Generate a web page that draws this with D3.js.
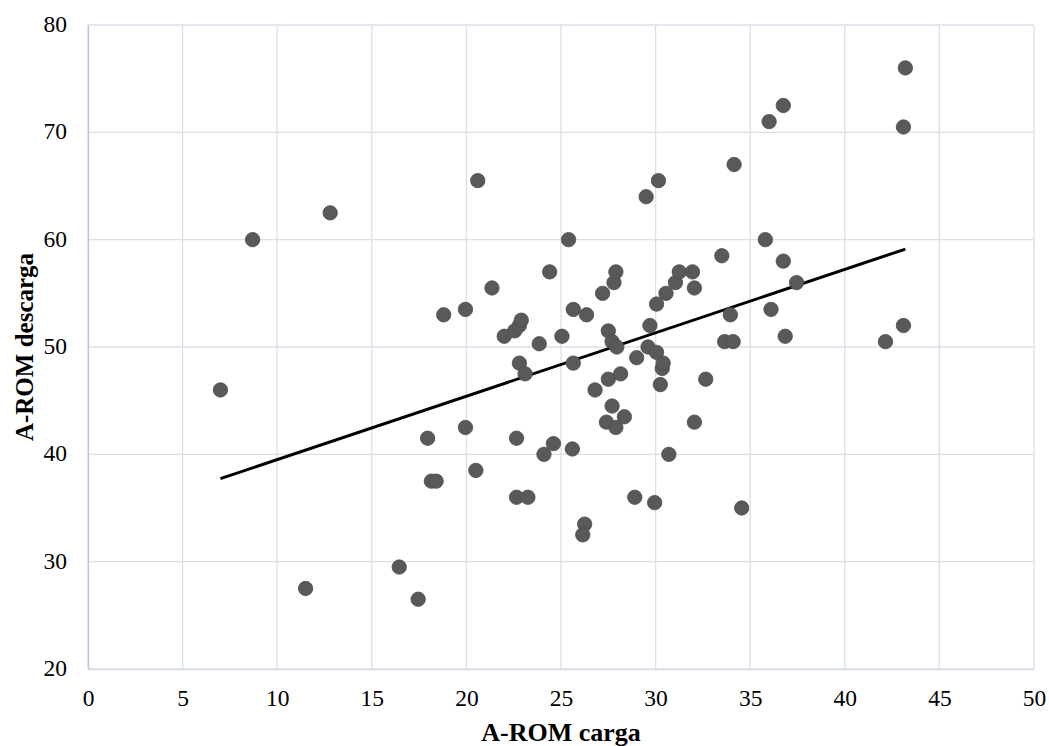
<!DOCTYPE html>
<html>
<head>
<meta charset="utf-8">
<script src="https://cdn.jsdelivr.net/npm/d3@7"></script>
<style>
  body { margin: 0; background: #fff; }
  text { font-family: "Liberation Serif", "Times New Roman", serif; }
</style>
</head>
<body>
<div id="chart"></div>
<script>
// A-ROM carga (x) vs A-ROM descarga (y)
var cargaValues = [
  7.0, 8.7, 11.5, 12.8, 16.45, 17.45, 17.95, 18.15, 18.4, 18.8,
  19.95, 19.95, 20.5, 20.6, 21.35, 22.0, 22.55, 22.8, 22.9, 22.65,
  22.65, 22.8, 23.1, 23.25, 23.85, 24.1, 24.4, 24.6, 25.05, 25.4,
  25.65, 25.65, 25.6, 26.25, 26.15, 26.35, 26.8, 27.2, 27.4, 27.5,
  27.5, 27.7, 27.7, 27.8, 27.9, 27.9, 27.95, 28.15, 28.35, 29.0,
  28.9, 29.5, 29.6, 29.7, 29.95, 30.05, 30.05, 30.15, 30.25, 30.35,
  30.4, 30.7, 30.55, 31.05, 31.25, 31.95, 32.05, 32.05, 32.65, 33.5,
  33.65, 33.95, 34.1, 34.15, 34.55, 35.8, 36.0, 36.1, 36.75, 36.75,
  36.85, 37.45, 42.15, 43.1, 43.1, 43.2
]
var descargaValues = [
  46, 60, 27.5, 62.5, 29.5, 26.5, 41.5, 37.5, 37.5, 53,
  53.5, 42.5, 38.5, 65.5, 55.5, 51, 51.5, 52, 52.5, 41.5,
  36, 48.5, 47.5, 36, 50.3, 40, 57, 41, 51, 60,
  53.5, 48.5, 40.5, 33.5, 32.5, 53, 46, 55, 43, 51.5,
  47, 50.5, 44.5, 56, 57, 42.5, 50, 47.5, 43.5, 49,
  36, 64, 50, 52, 35.5, 49.5, 54, 65.5, 46.5, 48,
  48.5, 40, 55, 56, 57, 57, 55.5, 43, 47, 58.5,
  50.5, 53, 50.5, 67, 35, 60, 71, 53.5, 72.5, 58,
  51, 56, 50.5, 70.5, 52, 76
]
var xTicks = [0, 5, 10, 15, 20, 25, 30, 35, 40, 45, 50]
var yTicks = [20, 30, 40, 50, 60, 70, 80]
var xTitle = "A-ROM carga"
var yTitle = "A-ROM descarga"

var W = 1049, H = 746
var margin = {top: 25, right: 15, bottom: 77, left: 88}
var width = W - margin.left - margin.right
var height = H - margin.top - margin.bottom

var points = cargaValues.map(function (x, i) { return {x: x, y: descargaValues[i]} })

var x = d3.scaleLinear().domain([0, 50]).range([0, width])
var y = d3.scaleLinear().domain([20, 80]).range([height, 0])

var svg = d3.select("#chart").append("svg")
    .attr("width", W)
    .attr("height", H)

var g = svg.append("g")
    .attr("transform", "translate(" + margin.left + "," + margin.top + ")")

// gridlines
g.append("g")
    .selectAll("line")
    .data(xTicks)
    .enter().append("line")
    .attr("x1", function (d) { return x(d) })
    .attr("x2", function (d) { return x(d) })
    .attr("y1", 0)
    .attr("y2", height)
    .style("stroke", "#dadfe8")
    .style("stroke-width", 1.3)

g.append("g")
    .selectAll("line")
    .data(yTicks)
    .enter().append("line")
    .attr("x1", 0)
    .attr("x2", width)
    .attr("y1", function (d) { return y(d) })
    .attr("y2", function (d) { return y(d) })
    .style("stroke", "#dadfe8")
    .style("stroke-width", 1.3)

// axes
var xAxis = g.append("g")
    .attr("transform", "translate(0," + height + ")")
    .call(d3.axisBottom(x).tickValues(xTicks).tickSize(0))
xAxis.select(".domain").style("stroke", "#d6dce6").style("stroke-width", 1.3)
xAxis.selectAll(".tick text").attr("y", 37).attr("dy", null)

var yAxis = g.append("g")
    .call(d3.axisLeft(y).tickValues(yTicks).tickSize(0).tickPadding(21))
yAxis.select(".domain").style("stroke", "#b9c5da").style("stroke-width", 1.3)
yAxis.selectAll(".tick text").attr("dy", "0.28em")

g.selectAll(".tick text")
    .style("font-family", "'Liberation Serif', 'Times New Roman', serif")
    .style("font-size", "23.5px")
    .style("fill", "#000")

// trend line (least squares)
var mx = d3.mean(points, function (d) { return d.x })
var my = d3.mean(points, function (d) { return d.y })
var sxy = d3.sum(points, function (d) { return (d.x - mx) * (d.y - my) })
var sxx = d3.sum(points, function (d) { return (d.x - mx) * (d.x - mx) })
var slope = sxy / sxx
var intercept = my - slope * mx
var xExt = d3.extent(cargaValues)

g.append("line")
    .attr("x1", x(xExt[0]))
    .attr("y1", y(intercept + slope * xExt[0]))
    .attr("x2", x(xExt[1]))
    .attr("y2", y(intercept + slope * xExt[1]))
    .style("stroke", "#000")
    .style("stroke-width", 3)

// dots
g.selectAll("circle")
    .data(points)
    .enter().append("circle")
    .attr("cx", function (d) { return x(d.x) })
    .attr("cy", function (d) { return y(d.y) })
    .attr("r", 7.2)
    .style("fill", "#595959")
    .style("stroke", "#4d4d4d")
    .style("stroke-width", 0.8)

// axis titles
svg.append("text")
    .attr("x", margin.left + width / 2)
    .attr("y", 741)
    .attr("text-anchor", "middle")
    .style("font-size", "26px")
    .style("font-weight", "bold")
    .text(xTitle)

svg.append("text")
    .attr("transform", "translate(33," + (margin.top + height / 2) + ") rotate(-90)")
    .attr("text-anchor", "middle")
    .style("font-size", "25px")
    .style("font-weight", "bold")
    .text(yTitle)
</script>
</body>
</html>
